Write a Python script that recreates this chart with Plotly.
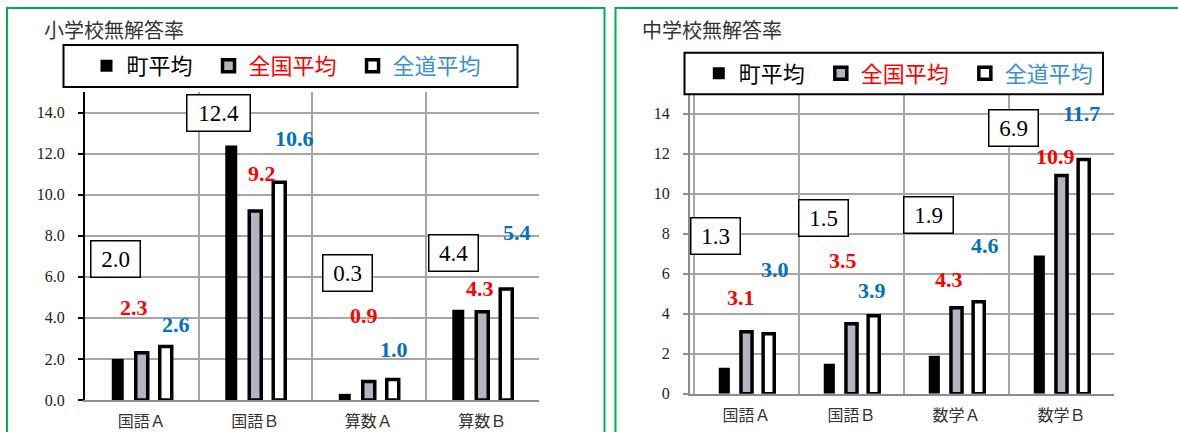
import plotly.graph_objects as go

W, H = 1178, 432

# ---------------- data ----------------
titles = ["小学校無解答率", "中学校無解答率"]
series_names = ["町平均", "全国平均", "全道平均"]

elem_categories = ["国語Ａ", "国語Ｂ", "算数Ａ", "算数Ｂ"]
elem_town = [2.0, 12.4, 0.3, 4.4]
elem_nation = [2.3, 9.2, 0.9, 4.3]
elem_pref = [2.6, 10.6, 1.0, 5.4]

jhs_categories = ["国語Ａ", "国語Ｂ", "数学Ａ", "数学Ｂ"]
jhs_town = [1.3, 1.5, 1.9, 6.9]
jhs_nation = [3.1, 3.5, 4.3, 10.9]
jhs_pref = [3.0, 3.9, 4.6, 11.7]

elem_yticks = [0, 2, 4, 6, 8, 10, 12, 14]
jhs_yticks = [0, 2, 4, 6, 8, 10, 12, 14]

# label placement (data-unit heights and pixel shifts from category centre)
elem_label_y = [[6.88, 13.98, 6.2, 7.15], [4.5, 11.02, 4.1, 5.43], [3.66, 12.72, 2.44, 8.16]]
elem_label_dx = [[-26.75, -37.25, -21.25, -28.45], [-7.75, 6.25, -4.75, -2.25], [34.25, 38.75, 24.85, 34.75]]
jhs_label_y = [[7.86, 8.8, 8.95, 13.29], [4.82, 6.66, 5.73, 11.84], [6.23, 5.15, 7.39, 14.02]]
jhs_label_dx = [[-31, -28.4, -28, -48.5], [-5.7, -8.7, -7.6, -6], [28.5, 20.5, 28, 20]]

# ---------------- styles ----------------
SERIF = "Liberation Serif, 'Noto Sans CJK JP', serif"
CJK = "'Noto Sans CJK JP', sans-serif"
RED = "#ff0000"
BLUE = "#0070c0"
LEG_BLUE = "#3d8fd4"
GREEN = "#00b050"
GRID = "#a6a6a6"

bar_styles = [
    dict(color="black", line=dict(width=0, color="black")),
    dict(color="#b2b5c0", line=dict(width=3.5, color="black")),
    dict(color="white", line=dict(width=3.5, color="black")),
]
legend_names = [
    "町平均\u2002",
    f'<span style="color:{RED}">全国平均</span>\u2002',
    f'<span style="color:{LEG_BLUE}">全道平均</span>',
]

def px_x(p):
    return p / W

def px_y(p):
    return 1 - p / H

fig = go.Figure()

panels = [
    dict(cats=elem_categories, vals=[elem_town, elem_nation, elem_pref], xa="x", ya="y",
         leg="legend", ly=elem_label_y, ldx=elem_label_dx),
    dict(cats=jhs_categories, vals=[jhs_town, jhs_nation, jhs_pref], xa="x2", ya="y2",
         leg="legend2", ly=jhs_label_y, ldx=jhs_label_dx),
]

annotations = []
for p in panels:
    for i, vals in enumerate(p["vals"]):
        fig.add_trace(go.Bar(
            x=p["cats"], y=vals, name=legend_names[i], marker=bar_styles[i],
            xaxis=p["xa"], yaxis=p["ya"], legend=p["leg"], hoverinfo="skip",
        ))
        for j, v in enumerate(vals):
            txt = f"{v:.1f}"
            if i == 0:
                annotations.append(dict(
                    x=p["cats"][j], y=p["ly"][i][j], xref=p["xa"], yref=p["ya"],
                    text=txt, showarrow=False, xshift=p["ldx"][i][j],
                    font=dict(family=SERIF, size=23, color="black"),
                    bordercolor="black", borderwidth=1.5, borderpad=1,
                    width=(46 if len(txt) == 3 else 60), height=33,
                    bgcolor="white", align="center", valign="middle",
                ))
            else:
                annotations.append(dict(
                    x=p["cats"][j], y=p["ly"][i][j], xref=p["xa"], yref=p["ya"],
                    text=f"<b>{txt}</b>", showarrow=False, xshift=p["ldx"][i][j],
                    font=dict(family=SERIF, size=22, color=(RED if i == 1 else BLUE)),
                ))

# titles
annotations.append(dict(x=px_x(42), y=px_y(30), xref="paper", yref="paper", xanchor="left",
                        yanchor="middle", text=titles[0], showarrow=False,
                        font=dict(family=CJK, size=20, color="#333333")))
annotations.append(dict(x=px_x(640), y=px_y(30), xref="paper", yref="paper", xanchor="left",
                        yanchor="middle", text=titles[1], showarrow=False,
                        font=dict(family=CJK, size=20, color="#333333")))

shapes = [
    # panel frames
    dict(type="rect", xref="paper", yref="paper", x0=px_x(7), x1=px_x(604.5), y0=-0.05, y1=px_y(8),
         line=dict(color=GREEN, width=2)),
    dict(type="rect", xref="paper", yref="paper", x0=px_x(615.5), x1=1.05, y0=-0.05, y1=px_y(8),
         line=dict(color=GREEN, width=2)),
    # legend frames
    dict(type="rect", xref="paper", yref="paper", x0=px_x(63.5), x1=px_x(517.5), y0=px_y(87), y1=px_y(45),
         line=dict(color="black", width=2)),
    dict(type="rect", xref="paper", yref="paper", x0=px_x(684.5), x1=px_x(1103), y0=px_y(94.3), y1=px_y(52.7),
         line=dict(color="black", width=2)),
]

xaxis_common = dict(
    type="category", tickson="boundaries", showgrid=True, gridcolor=GRID, gridwidth=1.8,
    ticks="", showline=True, linecolor="#8c8c8c", linewidth=2, ticklabelstandoff=6,
    tickfont=dict(family=CJK, size=16, color="#333333"), fixedrange=True, automargin=False,
)

fig.update_layout(
    width=W, height=H, margin=dict(l=0, r=0, t=0, b=0, autoexpand=False),
    paper_bgcolor="white", plot_bgcolor="white",
    barmode="group", bargap=0.366, bargroupgap=0.5,
    showlegend=True,
    xaxis=dict(domain=[px_x(85), px_x(539)], anchor="y", **xaxis_common),
    xaxis2=dict(domain=[px_x(690), px_x(1114)], anchor="y2", **xaxis_common),
    yaxis=dict(domain=[px_y(400), px_y(92)], anchor="x", range=[0, 15], tickvals=elem_yticks,
               tickformat=".1f", ticks="outside", ticklen=5, tickwidth=2, tickcolor="black",
               showline=True, linecolor="black", linewidth=2, showgrid=True, gridcolor=GRID,
               gridwidth=1.8, zeroline=False, ticklabelstandoff=10, automargin=False,
               tickfont=dict(family=SERIF, size=16, color="#222222"), fixedrange=True),
    yaxis2=dict(domain=[px_y(393.7), px_y(93.5)], anchor="x2", range=[0, 15], tickvals=jhs_yticks,
                tickformat="d", ticks="outside", ticklen=5, tickwidth=2, tickcolor="#8c8c8c",
                showline=True, linecolor="#8c8c8c", linewidth=2, showgrid=True, gridcolor=GRID,
                gridwidth=1.8, zeroline=False, ticklabelstandoff=10, automargin=False,
                tickfont=dict(family=SERIF, size=16, color="#222222"), fixedrange=True),
    legend=dict(orientation="h", x=px_x(86.5), xanchor="left", y=px_y(66), yanchor="middle",
                borderwidth=0, bgcolor="rgba(0,0,0,0)", itemclick=False, itemdoubleclick=False,
                font=dict(family=CJK, size=22, color="black"), traceorder="normal"),
    legend2=dict(orientation="h", x=px_x(698.8), xanchor="left", y=px_y(73.5), yanchor="middle",
                 borderwidth=0, bgcolor="rgba(0,0,0,0)", itemclick=False, itemdoubleclick=False,
                 font=dict(family=CJK, size=22, color="black"), traceorder="normal"),
    annotations=annotations,
    shapes=shapes,
)

fig.write_html("out.html", config={"displayModeBar": False, "staticPlot": False})
